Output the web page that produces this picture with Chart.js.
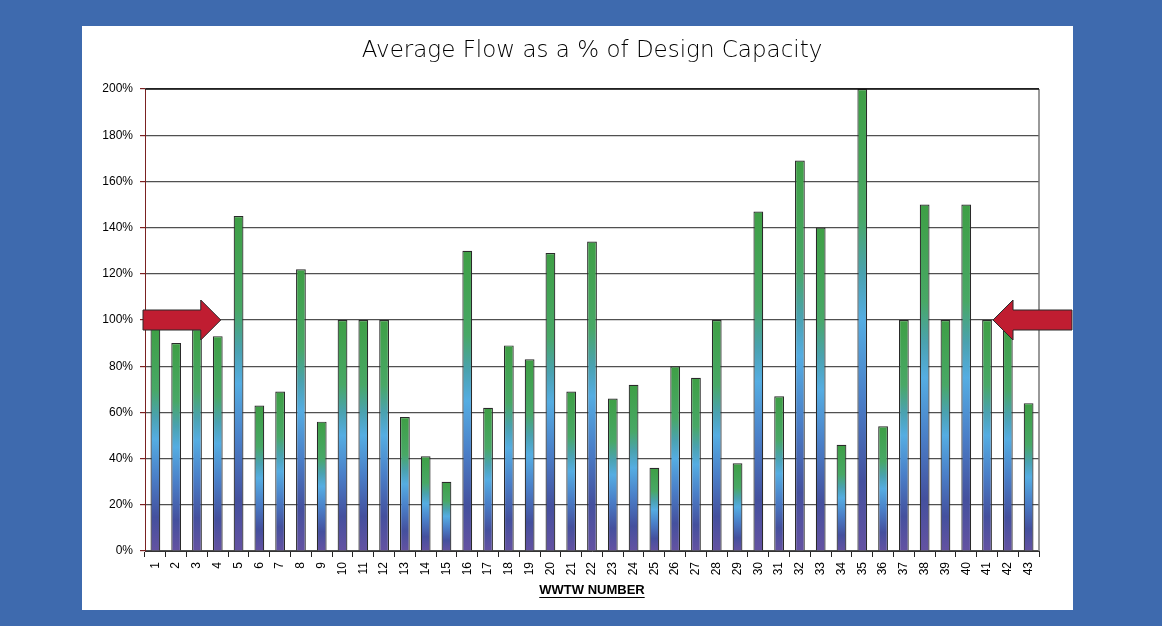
<!DOCTYPE html>
<html>
<head>
<meta charset="utf-8">
<script src="https://cdn.jsdelivr.net/npm/chart.js@4/dist/chart.umd.min.js"></script>
<style>
  html, body { margin: 0; padding: 0; }
  body { width: 1162px; height: 626px; background: #3e6aae; position: relative; overflow: hidden; }
  #panel { position: absolute; left: 82px; top: 26px; width: 991px; height: 584px; background: #ffffff; }
</style>
</head>
<body>
<div id="panel"><canvas id="flowChart" width="991" height="584"></canvas></div>
<script>
// WWTW numbers along the x axis
const plants = ['1','2','3','4','5','6','7','8','9','10','11','12','13','14','15','16','17','18','19','20','21','22',
                '23','24','25','26','27','28','29','30','31','32','33','34','35','36','37','38','39','40','41','42','43'];

// average flow as % of design capacity
const flowPct = [97, 90, 96, 93, 145, 63, 69, 122, 56, 100, 100, 100, 58, 41, 30, 130, 62, 89, 83, 129, 69, 134,
                 66, 72, 36, 80, 75, 100, 38, 147, 67, 169, 140, 46, 200, 54, 100, 150, 100, 150, 100, 97, 64];

// y axis ticks
const yTicks = [0, 20, 40, 60, 80, 100, 120, 140, 160, 180, 200];

// the red arrows point at this level
const markLevel = 100;

// purple -> navy -> sky blue -> green along each bar
function barGradient(context) {
    const chart = context.chart;
    const { ctx, chartArea, scales } = chart;
    if (!chartArea || !scales.y) return '#4ea6dc';
    const base = scales.y.getPixelForValue(0);
    const top = scales.y.getPixelForValue(context.raw);
    const g = ctx.createLinearGradient(0, base, 0, top);
    g.addColorStop(0, '#6452a2');
    g.addColorStop(0.15, '#44509e');
    g.addColorStop(0.33, '#4a7fc8');
    g.addColorStop(0.5, '#55ade2');
    g.addColorStop(0.6, '#4aa2b0');
    g.addColorStop(0.72, '#48a866');
    g.addColorStop(1, '#3e9f45');
    return g;
}

// red block arrows at the 100% line, the plot frame and the underline of the axis title
const extrasPlugin = {
    id: 'extras',
    afterDatasetsDraw(chart) {
        const { ctx, chartArea, scales } = chart;
        const yc = scales.y.getPixelForValue(markLevel);

        function arrow(tail, tip) {
            const dir = tip > tail ? 1 : -1;
            const headBase = tip - dir * 20;
            ctx.beginPath();
            ctx.moveTo(tail, yc - 10);
            ctx.lineTo(headBase, yc - 10);
            ctx.lineTo(headBase, yc - 20);
            ctx.lineTo(tip, yc);
            ctx.lineTo(headBase, yc + 20);
            ctx.lineTo(headBase, yc + 10);
            ctx.lineTo(tail, yc + 10);
            ctx.closePath();
            ctx.fillStyle = '#c01d31';
            ctx.fill();
            ctx.lineWidth = 1;
            ctx.strokeStyle = '#2b2b2b';
            ctx.stroke();
        }

        ctx.save();
        // right frame line
        ctx.strokeStyle = '#777777';
        ctx.lineWidth = 1.5;
        ctx.beginPath();
        ctx.moveTo(chartArea.right, chartArea.top);
        ctx.lineTo(chartArea.right, chartArea.bottom);
        ctx.stroke();
        // top frame line
        ctx.strokeStyle = '#111111';
        ctx.beginPath();
        ctx.moveTo(chartArea.left, chartArea.top);
        ctx.lineTo(chartArea.right, chartArea.top);
        ctx.stroke();

        arrow(chartArea.left - 2, scales.x.getPixelForValue(3) + 3);
        arrow(chart.width - 1, scales.x.getPixelForValue(40) + 6);
        ctx.restore();
    },
    afterDraw(chart) {
        const x = chart.scales.x;
        const t = x.options.title;
        if (!t.display) return;
        const ctx = chart.ctx;
        ctx.save();
        ctx.font = 'bold 13px "Liberation Sans", Arial, sans-serif';
        const w = ctx.measureText(t.text).width;
        const cx = (chart.chartArea.left + chart.chartArea.right) / 2;
        const cy = x.bottom - (13 * 1.2) / 2 - t.padding.bottom;
        ctx.strokeStyle = '#000000';
        ctx.lineWidth = 1;
        ctx.beginPath();
        ctx.moveTo(cx - w / 2, Math.round(cy + 7) + 0.5);
        ctx.lineTo(cx + w / 2, Math.round(cy + 7) + 0.5);
        ctx.stroke();
        ctx.restore();
    }
};

const ctxFlow = document.getElementById('flowChart').getContext('2d');
const flowChart = new Chart(ctxFlow, {
    type: 'bar',
    data: {
        labels: plants,
        datasets: [{
            label: 'Average Flow',
            data: flowPct,
            backgroundColor: barGradient,
            borderColor: '#2a2a2a',
            borderWidth: 1.2,
            borderSkipped: 'bottom',
            categoryPercentage: 1.0,
            barPercentage: 0.47
        }]
    },
    options: {
        responsive: false,
        animation: false,
        layout: { padding: { left: 0, right: 34, top: 0, bottom: 0 } },
        plugins: {
            legend: { display: false },
            tooltip: { enabled: false },
            title: {
                display: true,
                fullSize: false, // centre the title over the plot area
                text: 'Average Flow as a % of Design Capacity',
                color: '#000000',
                font: { family: '"DejaVu Sans", sans-serif', size: 23, weight: '300' },
                padding: { top: 11, bottom: 24.4 }
            }
        },
        scales: {
            x: {
                afterFit(scale) { scale.height = 59; },
                grid: { display: true, drawOnChartArea: false, tickLength: 6, color: '#222222', offset: true },
                border: { color: '#333333', width: 1 },
                ticks: {
                    color: '#000000',
                    font: { family: '"Liberation Sans", Arial, sans-serif', size: 12 },
                    minRotation: 90,
                    maxRotation: 90,
                    padding: 5,
                    autoSkip: false
                },
                title: {
                    display: true,
                    text: 'WWTW NUMBER',
                    color: '#000000',
                    font: { family: '"Liberation Sans", Arial, sans-serif', size: 13, weight: 'bold' },
                    padding: { top: 0, bottom: 12 }
                }
            },
            y: {
                min: 0,
                max: 200,
                afterFit(scale) { scale.width = 63; },
                afterBuildTicks(scale) { scale.ticks = yTicks.map(v => ({ value: v })); },
                grid: { color: '#505050', lineWidth: 1.2, tickLength: 5, tickColor: '#7a2222' },
                border: { color: '#7a2222', width: 1 },
                ticks: {
                    color: '#000000',
                    font: { family: '"Liberation Sans", Arial, sans-serif', size: 12 },
                    padding: 7,
                    callback: v => v + '%'
                }
            }
        }
    },
    plugins: [extrasPlugin]
});
</script>
</body>
</html>
